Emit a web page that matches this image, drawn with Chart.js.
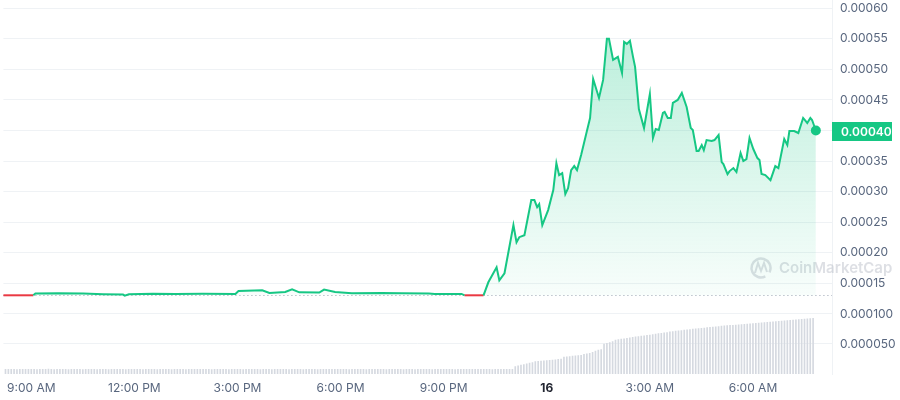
<!DOCTYPE html>
<html>
<head>
<meta charset="utf-8">
<script src="https://cdn.jsdelivr.net/npm/chart.js@4.4.1/dist/chart.umd.min.js"></script>
<style>
  html, body { margin: 0; padding: 0; background: #fff; }
  #wrap { width: 900px; height: 400px; position: relative; }
</style>
</head>
<body>
<div id="wrap"><canvas id="priceChart"></canvas></div>
<script>
// time is in hours from 00:00 of the 15th, so 24 = midnight ("16")
var xTicks = [9, 12, 15, 18, 21, 24, 27, 30];
var xTickLabels = ['9:00 AM', '12:00 PM', '3:00 PM', '6:00 PM', '9:00 PM', '16', '3:00 AM', '6:00 AM'];
var priceTicks = [0.00015, 0.0002, 0.00025, 0.0003, 0.00035, 0.0004, 0.00045, 0.0005, 0.00055, 0.0006];
var volumeTicks = [0.00005, 0.0001];
var openPrice = 0.0001305;

var priceTimes = [
    8.19, 9.06, 9.12, 9.78, 10.51, 11.09, 11.67, 11.72, 11.84, 12.54, 13.20, 13.99, 14.94,
    15.03, 15.72, 15.93, 16.39, 16.59, 16.80, 17.38, 17.52, 17.84, 18.33, 19.20, 19.78,
    20.57, 20.74, 21.52, 21.61, 22.16,
    22.30, 22.54, 22.62, 22.77, 23.03, 23.12, 23.20, 23.35, 23.55, 23.64, 23.72, 23.78,
    23.87, 24.04, 24.19, 24.28, 24.36, 24.45, 24.54, 24.62, 24.71, 24.80, 24.88, 25.00,
    25.14, 25.26, 25.35, 25.52, 25.64, 25.75, 25.81, 25.93, 26.07, 26.19, 26.25, 26.33,
    26.42, 26.51, 26.57, 26.68, 26.83, 27.00, 27.09, 27.17, 27.26, 27.38, 27.43, 27.52,
    27.61, 27.67, 27.81, 27.93, 28.07, 28.19, 28.25, 28.36, 28.42, 28.51, 28.57, 28.65,
    28.80, 28.88, 29.00, 29.09, 29.14, 29.26, 29.32, 29.43, 29.52, 29.64, 29.72, 29.81,
    29.90, 30.01, 30.13, 30.19, 30.25, 30.36, 30.51, 30.65, 30.74, 30.91, 31.00, 31.06,
    31.20, 31.32, 31.46, 31.58, 31.67, 31.72, 31.83
];
var prices = [
    0.0001303, 0.0001303, 0.0001331, 0.0001336, 0.0001331, 0.0001320, 0.0001315, 0.0001298, 0.0001320,
    0.0001328, 0.0001325, 0.0001330, 0.0001325,
    0.0001374, 0.0001385, 0.0001341, 0.0001357, 0.0001402, 0.0001352, 0.0001347, 0.0001397, 0.0001357,
    0.0001336, 0.0001341, 0.0001336, 0.0001331, 0.0001325, 0.0001325, 0.0001303, 0.0001303,
    0.0001516, 0.0001762, 0.0001549, 0.0001664, 0.0002451, 0.0002172, 0.0002254, 0.0002287, 0.0002861,
    0.0002861, 0.0002746, 0.0002795, 0.0002451, 0.0002697, 0.0003025, 0.0003467, 0.0003270, 0.0003303,
    0.0002959, 0.0003057, 0.0003352, 0.0003418, 0.0003352, 0.0003598, 0.0003926, 0.0004205, 0.0004844,
    0.0004533, 0.0004828, 0.0005500, 0.0005500, 0.0005156, 0.0005205, 0.0004943, 0.0005451, 0.0005418,
    0.0005467, 0.0005205, 0.0005041, 0.0004352, 0.0004041, 0.0004598, 0.0003877, 0.0004025, 0.0004008,
    0.0004287, 0.0004303, 0.0004205, 0.0004205, 0.0004451, 0.0004500, 0.0004615, 0.0004385, 0.0004041,
    0.0004008, 0.0003664, 0.0003664, 0.0003762, 0.0003680, 0.0003844, 0.0003828, 0.0003844, 0.0003926,
    0.0003484, 0.0003451, 0.0003287, 0.0003336, 0.0003385, 0.0003320, 0.0003631, 0.0003500, 0.0003533,
    0.0003877, 0.0003697, 0.0003549, 0.0003516, 0.0003287, 0.0003270, 0.0003188, 0.0003418, 0.0003385,
    0.0003861, 0.0003762, 0.0003992, 0.0003992, 0.0003959, 0.0004205, 0.0004123, 0.0004205, 0.0004172,
    0.0004000
];

// volume bars, one every 5 minutes from 8:15 AM, in millionths
var volumeStart = 8.25;
var volumeStepMinutes = 5;
var volumesE6 = [
    7.8, 7.6, 7.9, 7.7, 7.5, 7.8, 7.6, 7.9, 7.7,
    7.6, 7.8, 7.5, 7.9, 7.7, 7.6, 8.0, 7.8, 7.5, 7.7, 7.9, 7.6,
    7.8, 7.5, 7.7, 7.9, 7.6, 7.8, 7.4, 7.7, 7.9, 7.6, 7.8, 7.5,
    7.7, 7.9, 7.6, 7.5, 7.8, 7.7, 7.9, 7.6, 7.8, 7.5, 7.7, 7.9,
    7.6, 7.8, 7.7, 7.5, 7.9, 7.6, 7.8, 7.7, 7.5, 7.9, 7.6, 7.8,
    7.7, 7.5, 7.8, 7.9, 7.6, 7.7, 7.5, 7.8, 7.9, 7.6, 7.8, 7.7,
    7.9, 7.6, 7.8, 7.5, 7.7, 7.9, 7.6, 7.8, 7.7, 7.5, 7.9, 7.6,
    7.8, 7.7, 7.5, 7.9, 7.6, 7.8, 7.7, 7.9, 7.5, 7.8, 7.6, 7.7,
    7.5, 7.8, 7.9, 7.6, 7.7, 7.8, 7.5, 7.9, 7.6, 7.8, 7.7, 7.5,
    7.8, 7.6, 7.7, 7.9, 7.5, 7.8, 7.6, 7.7, 7.9, 7.6, 7.8, 7.7,
    7.6, 7.9, 7.7, 7.5, 7.8, 7.6, 7.9, 7.7, 7.8, 7.5, 7.7, 7.9,
    7.7, 7.6, 7.8, 7.9, 7.5, 7.7, 7.8, 7.6, 7.9, 7.7, 7.5, 7.8,
    7.9, 7.7, 7.5, 7.8, 7.6, 7.9, 7.7, 7.8, 7.5, 7.6, 7.9, 7.7,
    7.6, 7.8, 7.7, 7.9, 7.5, 7.8, 7.6, 7.7, 7.9, 7.8, 7.6, 7.8,
    7.7, 7.9, 7.6, 7.8, 7.7, 7.5, 7.8, 7.9, 7.7, 7.6, 7.8, 7.9,
    7.9, 12.2, 13.5, 14.8, 15.9, 17.0, 18.0, 19.1, 20.5, 21.0, 21.4, 21.9,
    22.4, 22.9, 23.3, 23.8, 24.5, 25.0, 28.4, 28.8, 29.2, 29.7, 30.3, 30.7,
    31.2, 32.6, 33.6, 34.5, 36.0, 38.2, 40.0, 40.8, 50.0, 51.2, 52.5, 54.0,
    56.5, 57.2, 58.0, 58.8, 59.5, 60.3, 61.0, 61.8, 62.5, 63.2, 63.8, 64.4,
    65.0, 65.8, 66.5, 67.2, 67.8, 68.4, 69.0, 70.3, 70.8, 71.4, 71.9, 72.5,
    73.0, 73.6, 74.2, 74.7, 75.2, 75.7, 76.2, 76.7, 77.2, 77.7, 78.2, 78.7,
    79.2, 79.7, 80.1, 80.5, 80.9, 81.3, 81.7, 82.1, 82.5, 82.9, 83.3, 83.7,
    84.2, 84.6, 85.0, 85.4, 85.8, 86.2, 86.6, 87.0, 87.4, 87.8, 88.2, 88.6,
    89.0, 89.4, 89.8, 90.2, 90.6, 91.0, 91.4, 91.8, 92.3, 92.8
];

var green = '#16c784';
var red = '#ea3943';
var tickColor = '#58667e';
var gridColor = '#eff2f5';

Chart.defaults.font.family = 'Inter, "Noto Sans", sans-serif';
Chart.defaults.font.size = 12;

var priceData = priceTimes.map(function(t, i) { return { x: t, y: prices[i] }; });
var volumeData = volumesE6.map(function(v, i) {
    return { x: volumeStart + i * volumeStepMinutes / 60, y: v / 1e6 };
});

// y axes should not push the plot area in for half a label
function fitRightAxis(s) {
    s.width = 68;
    s.paddingTop = 0;
    s.paddingBottom = 0;
}

var extras = {
    id: 'extras',
    beforeDatasetsDraw: function(chart) {
        var c = chart.ctx, area = chart.chartArea, ys = chart.scales.y;
        var yOpen = Math.round(ys.getPixelForValue(openPrice)) + 0.5;
        c.save();
        // opening price dotted line
        c.strokeStyle = '#9aa3b2';
        c.lineWidth = 1;
        c.setLineDash([1, 3]);
        c.beginPath();
        c.moveTo(area.left, yOpen);
        c.lineTo(area.right, yOpen);
        c.stroke();
        c.setLineDash([]);
        // watermark
        c.globalAlpha = 0.4;
        c.strokeStyle = '#a9b0bc';
        c.lineWidth = 2.5;
        c.beginPath();
        c.arc(761, 268, 9.5, 0.35 * Math.PI, 2.15 * Math.PI);
        c.stroke();
        c.lineWidth = 2;
        c.beginPath();
        c.moveTo(755, 273);
        c.lineTo(758, 263);
        c.lineTo(761, 271);
        c.lineTo(764, 263);
        c.lineTo(767, 272);
        c.stroke();
        c.fillStyle = '#a9b0bc';
        c.font = '600 15px Inter, sans-serif';
        c.textBaseline = 'middle';
        c.textAlign = 'left';
        c.fillText('CoinMarketCap', 779, 268);
        c.restore();
    },
    afterDraw: function(chart) {
        var c = chart.ctx, ys = chart.scales.y;
        var last = prices[prices.length - 1];
        var yl = ys.getPixelForValue(last);
        c.save();
        c.fillStyle = green;
        c.fillRect(ys.left, Math.round(yl - 9), 60, 19);
        c.fillStyle = '#fff';
        c.font = '600 12px Inter, sans-serif';
        c.textBaseline = 'middle';
        c.textAlign = 'left';
        c.fillText(last.toFixed(5), ys.left + 9, Math.round(yl) + 1);
        c.restore();
    }
};

var ctx = document.getElementById('priceChart').getContext('2d');
window.priceChart = new Chart(ctx, {
    type: 'line',
    data: {
        datasets: [{
            type: 'line',
            data: priceData,
            yAxisID: 'y',
            borderColor: green,
            borderWidth: 2,
            tension: 0,
            pointRadius: function(c) { return c.dataIndex === prices.length - 1 ? 5 : 0; },
            pointBackgroundColor: green,
            pointBorderWidth: 0,
            clip: false,
            fill: { value: openPrice },
            backgroundColor: function(c) {
                var area = c.chart.chartArea;
                if (!area) return 'rgba(22, 199, 132, 0.1)';
                var ys = c.chart.scales.y;
                var g = c.chart.ctx.createLinearGradient(0, ys.top, 0, ys.getPixelForValue(openPrice));
                g.addColorStop(0, 'rgba(22, 199, 132, 0.32)');
                g.addColorStop(1, 'rgba(22, 199, 132, 0.03)');
                return g;
            },
            segment: {
                borderColor: function(c) {
                    return (c.p0.parsed.y < openPrice && c.p1.parsed.y < openPrice) ? red : undefined;
                }
            },
            order: 0
        }, {
            type: 'bar',
            data: volumeData,
            yAxisID: 'y1',
            backgroundColor: '#d5d9e0',
            barThickness: 1,
            order: 1
        }]
    },
    options: {
        responsive: true,
        maintainAspectRatio: false,
        animation: false,
        layout: { autoPadding: false, padding: 0 },
        plugins: {
            legend: { display: false },
            tooltip: { enabled: false }
        },
        scales: {
            x: {
                type: 'linear',
                min: 8.19,
                max: 32.3,
                offset: false,
                grid: { display: false, drawTicks: false },
                border: { display: false },
                afterBuildTicks: function(s) { s.ticks = xTicks.map(function(v) { return { value: v }; }); },
                afterFit: function(s) { s.height = 26; },
                ticks: {
                    autoSkip: false,
                    maxRotation: 0,
                    padding: 7,
                    callback: function(v, i) { return xTickLabels[i]; },
                    color: function(c) { return c.tick && c.tick.value === 24 ? '#222531' : tickColor; },
                    font: function(c) { return { weight: c.tick && c.tick.value === 24 ? 'bold' : 'normal' }; }
                }
            },
            y: {
                type: 'linear',
                position: 'right',
                stack: 'main',
                stackWeight: 300,
                min: 0.0001226,
                max: 0.0006136,
                afterBuildTicks: function(s) { s.ticks = priceTicks.map(function(v) { return { value: v }; }); },
                afterFit: fitRightAxis,
                grid: { color: gridColor, drawTicks: false },
                border: { color: gridColor },
                ticks: {
                    padding: 8,
                    color: tickColor,
                    callback: function(v) { return v.toFixed(5); }
                }
            },
            y1: {
                type: 'linear',
                position: 'right',
                stack: 'main',
                stackWeight: 74,
                min: 0,
                max: 0.0001233,
                afterBuildTicks: function(s) { s.ticks = volumeTicks.map(function(v) { return { value: v }; }); },
                afterFit: fitRightAxis,
                grid: { color: gridColor, drawTicks: false },
                border: { color: gridColor },
                ticks: {
                    padding: 8,
                    color: tickColor,
                    callback: function(v) { return v.toFixed(6); }
                }
            }
        }
    },
    plugins: [extras]
});
</script>
</body>
</html>
